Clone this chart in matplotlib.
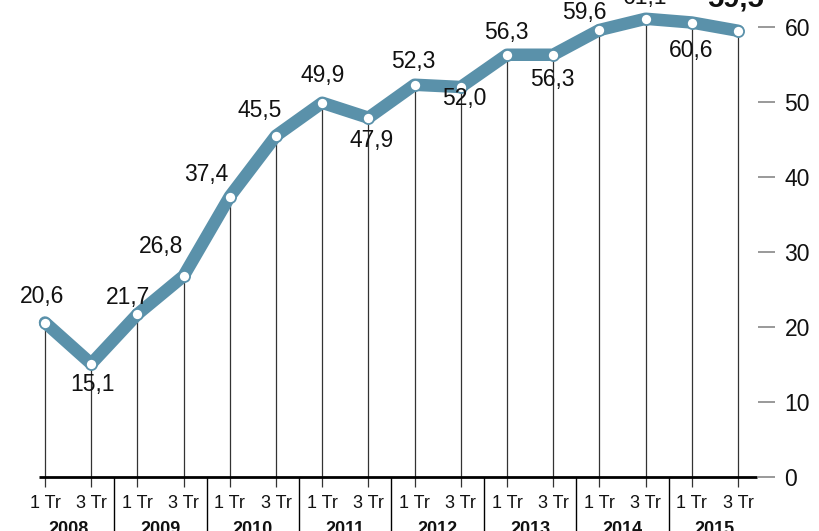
import numpy as np
import matplotlib.pyplot as plt

plt.rcParams['font.family'] = ['Liberation Sans', 'DejaVu Sans']

# data
years = ["2008", "2009", "2010", "2011", "2012", "2013", "2014", "2015"]
quarters = ["1 Tr", "3 Tr"]
values = [20.6, 15.1, 21.7, 26.8, 37.4, 45.5, 49.9, 47.9,
          52.3, 52.0, 56.3, 56.3, 59.6, 61.1, 60.6, 59.5]
value_labels = ["20,6", "15,1", "21,7", "26,8", "37,4", "45,5", "49,9", "47,9",
                "52,3", "52,0", "56,3", "56,3", "59,6", "61,1", "60,6", "59,5"]
yticks = [0, 10, 20, 30, 40, 50, 60]

# label offsets in pixels (dx, dy)
offsets = [(-3, 26), (1, -21), (-9, 17), (-23, 29), (-24, 22), (-16, 25),
           (0, 27), (3, -23), (-1, 23), (3, -11), (-1, 22), (-1, -25),
           (-15, 17), (0, 21), (-1, -28), (-3, 32)]

LINE = '#5a91aa'
W, H = 820, 531
fig = plt.figure(figsize=(W / 100, H / 100), dpi=100)
ax = fig.add_axes([0, 0, 758 / W, 1])

x = np.arange(len(values))
px_per_x = 46.2
px_per_y = 7.5
ax.set_xlim(-45 / px_per_x, (758 - 45) / px_per_x)
ax.set_ylim(-(H - 477) / px_per_y, 477 / px_per_y)

for s in ax.spines.values():
    s.set_visible(False)
ax.set_xticks([])
ax.yaxis.tick_right()
ax.set_yticks(yticks)
ax.set_yticklabels([str(v) for v in yticks], fontsize=16.5)
ax.tick_params(axis='y', direction='out', length=12, width=1.2,
               color='#888888', pad=7, labelcolor='#111111')

# drop lines
ax.vlines(x, -1.3, values, color='#333333', linewidth=0.9, zorder=1)
# baseline
ax.plot([-6 / px_per_x, 757 / px_per_x - 45 / px_per_x], [0, 0],
        color='black', linewidth=2, solid_capstyle='butt', zorder=2)
# year separators
for k in range(1, len(years)):
    ax.plot([2 * k - 0.5, 2 * k - 0.5], [-0.1, -10], color='black',
            linewidth=1, clip_on=False, zorder=2)

# main line
ax.plot(x, values, color=LINE, linewidth=9, solid_joinstyle='round',
        solid_capstyle='round', zorder=3, clip_on=False)
ax.plot(x, values, 'o', markersize=8, markerfacecolor='white',
        markeredgecolor=LINE, markeredgewidth=1.3, zorder=4, clip_on=False)

# value labels
for i, (xi, v, lab) in enumerate(zip(x, values, value_labels)):
    dx, dy = offsets[i]
    bold = i == len(values) - 1
    ax.annotate(lab, (xi, v), xytext=(dx, dy), textcoords='offset pixels',
                ha='center', va='center', fontsize=21 if bold else 16.5,
                fontweight='bold' if bold else 'normal', color='#111111',
                annotation_clip=False, zorder=5)

# x labels
for i, xi in enumerate(x):
    ax.text(xi, -26 / px_per_y, quarters[i % 2], ha='center', va='center',
            fontsize=13, color='#111111')
for k, yr in enumerate(years):
    ax.text(2 * k + 0.5, -52 / px_per_y, yr, ha='center', va='center',
            fontsize=13, fontweight='bold', color='#111111')

fig.savefig('out.png', dpi=100)
